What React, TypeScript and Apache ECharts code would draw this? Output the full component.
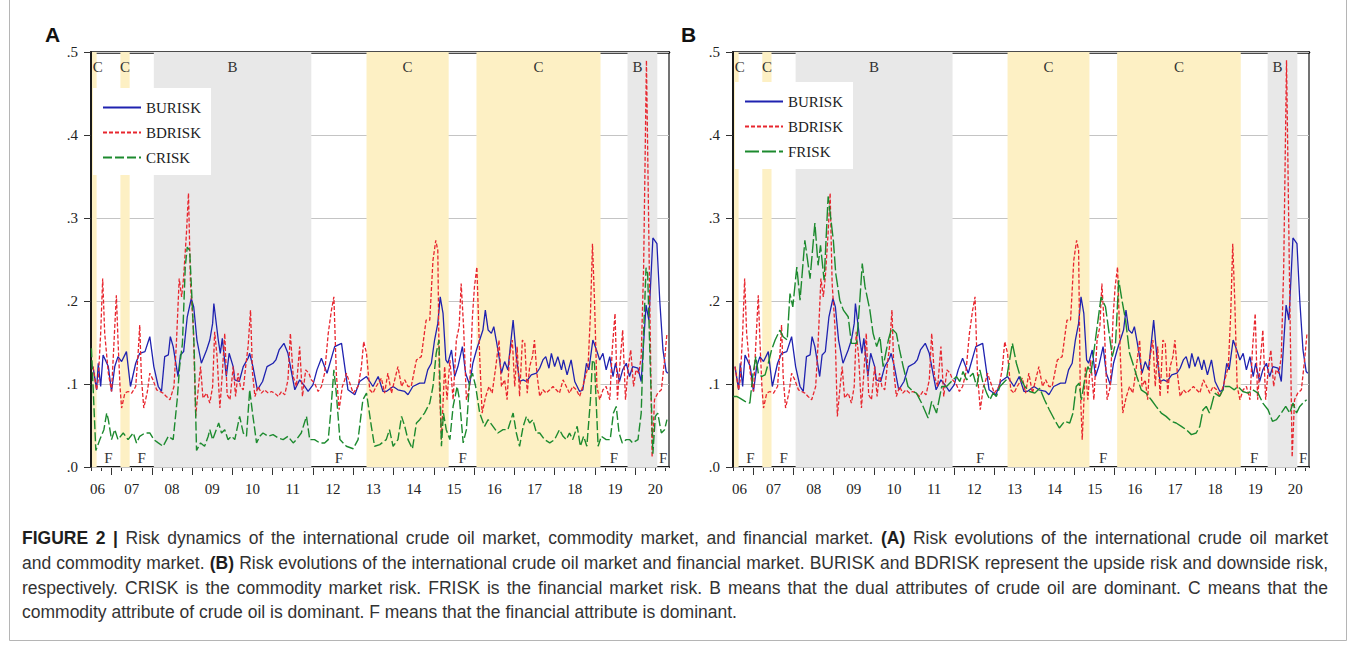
import React, { useEffect, useRef } from 'react';
import * as echarts from 'echarts';

// ---------- data ----------
const YEAR_LABELS = ['06', '07', '08', '09', '10', '11', '12', '13', '14', '15', '16', '17', '18', '19', '20'];
const YEAR_LABEL_POS = [2006.65, 2007.5, 2008.5, 2009.5, 2010.5, 2011.5, 2012.5, 2013.5, 2014.5, 2015.5, 2016.5, 2017.5, 2018.5, 2019.5, 2020.5];
const YEAR_TICKS = [2007, 2008, 2009, 2010, 2011, 2012, 2013, 2014, 2015, 2016, 2017, 2018, 2019, 2020];
const Y_LABELS = ['.0', '.1', '.2', '.3', '.4', '.5'];
const X_MIN = 2006.49;
const X_MAX = 2020.84;

const REGIONS: { from: number; to: number; type: 'B' | 'C' | 'F' }[] = [
  { from: 2006.49, to: 2006.63, type: 'C' },
  { from: 2006.63, to: 2007.22, type: 'F' },
  { from: 2007.22, to: 2007.45, type: 'C' },
  { from: 2007.45, to: 2008.05, type: 'F' },
  { from: 2008.05, to: 2011.96, type: 'B' },
  { from: 2011.96, to: 2013.33, type: 'F' },
  { from: 2013.33, to: 2015.37, type: 'C' },
  { from: 2015.37, to: 2016.06, type: 'F' },
  { from: 2016.06, to: 2019.14, type: 'C' },
  { from: 2019.14, to: 2019.81, type: 'F' },
  { from: 2019.81, to: 2020.55, type: 'B' },
  { from: 2020.55, to: 2020.84, type: 'F' },
];

const BURISK: [number, number][] = [
  [2006.54, 0.121], [2006.63, 0.093], [2006.67, 0.125], [2006.73, 0.097], [2006.79, 0.135], [2006.92, 0.121], [2007.0, 0.091], [2007.08, 0.121], [2007.16, 0.133], [2007.25, 0.127], [2007.37, 0.139], [2007.47, 0.097], [2007.6, 0.125], [2007.7, 0.137], [2007.83, 0.139], [2007.95, 0.157], [2008.05, 0.121], [2008.16, 0.097], [2008.24, 0.091], [2008.32, 0.133], [2008.41, 0.135], [2008.46, 0.157], [2008.53, 0.145], [2008.65, 0.109], [2008.71, 0.135], [2008.79, 0.139], [2008.88, 0.181], [2008.98, 0.203], [2009.04, 0.193], [2009.12, 0.153], [2009.23, 0.125], [2009.36, 0.141], [2009.44, 0.153], [2009.51, 0.173], [2009.54, 0.197], [2009.65, 0.153], [2009.7, 0.137], [2009.75, 0.155], [2009.85, 0.109], [2009.92, 0.137], [2010.02, 0.121], [2010.06, 0.105], [2010.17, 0.103], [2010.27, 0.121], [2010.39, 0.131], [2010.43, 0.137], [2010.51, 0.121], [2010.62, 0.093], [2010.75, 0.103], [2010.86, 0.121], [2011.01, 0.125], [2011.08, 0.129], [2011.16, 0.141], [2011.28, 0.149], [2011.38, 0.137], [2011.55, 0.093], [2011.67, 0.105], [2011.8, 0.097], [2011.88, 0.091], [2012.0, 0.099], [2012.1, 0.117], [2012.21, 0.131], [2012.35, 0.113], [2012.54, 0.145], [2012.71, 0.149], [2012.79, 0.121], [2012.87, 0.093], [2013.04, 0.087], [2013.16, 0.103], [2013.33, 0.109], [2013.49, 0.097], [2013.62, 0.109], [2013.74, 0.091], [2013.82, 0.091], [2013.99, 0.097], [2014.11, 0.093], [2014.28, 0.091], [2014.36, 0.087], [2014.48, 0.097], [2014.65, 0.101], [2014.77, 0.101], [2014.85, 0.117], [2014.94, 0.125], [2015.02, 0.153], [2015.1, 0.173], [2015.16, 0.205], [2015.23, 0.185], [2015.3, 0.129], [2015.35, 0.125], [2015.44, 0.141], [2015.52, 0.109], [2015.6, 0.121], [2015.71, 0.145], [2015.79, 0.113], [2015.89, 0.099], [2015.97, 0.125], [2016.06, 0.141], [2016.14, 0.153], [2016.22, 0.165], [2016.28, 0.189], [2016.35, 0.165], [2016.43, 0.161], [2016.49, 0.169], [2016.55, 0.153], [2016.62, 0.133], [2016.68, 0.113], [2016.76, 0.127], [2016.84, 0.117], [2016.97, 0.177], [2017.05, 0.133], [2017.13, 0.103], [2017.22, 0.105], [2017.3, 0.103], [2017.42, 0.111], [2017.55, 0.113], [2017.63, 0.119], [2017.71, 0.129], [2017.78, 0.133], [2017.86, 0.119], [2017.92, 0.137], [2018.0, 0.121], [2018.08, 0.133], [2018.17, 0.117], [2018.22, 0.129], [2018.31, 0.111], [2018.41, 0.129], [2018.5, 0.103], [2018.62, 0.091], [2018.7, 0.093], [2018.79, 0.125], [2018.85, 0.117], [2018.95, 0.153], [2019.04, 0.141], [2019.12, 0.129], [2019.2, 0.137], [2019.28, 0.117], [2019.37, 0.133], [2019.45, 0.109], [2019.51, 0.125], [2019.61, 0.103], [2019.69, 0.117], [2019.78, 0.125], [2019.86, 0.109], [2019.94, 0.121], [2020.07, 0.119], [2020.15, 0.103], [2020.23, 0.165], [2020.27, 0.195], [2020.34, 0.177], [2020.44, 0.276], [2020.54, 0.269], [2020.61, 0.201], [2020.69, 0.141], [2020.77, 0.115], [2020.81, 0.113],
];

const BDRISK: [number, number][] = [
  [2006.54, 0.121], [2006.63, 0.093], [2006.67, 0.105], [2006.73, 0.161], [2006.78, 0.227], [2006.83, 0.161], [2006.92, 0.113], [2007.0, 0.091], [2007.08, 0.169], [2007.12, 0.207], [2007.16, 0.153], [2007.21, 0.097], [2007.25, 0.071], [2007.33, 0.089], [2007.41, 0.091], [2007.5, 0.089], [2007.6, 0.097], [2007.66, 0.137], [2007.7, 0.171], [2007.74, 0.109], [2007.8, 0.071], [2007.89, 0.091], [2007.95, 0.113], [2008.03, 0.105], [2008.12, 0.093], [2008.2, 0.091], [2008.28, 0.089], [2008.36, 0.085], [2008.45, 0.081], [2008.55, 0.097], [2008.61, 0.149], [2008.68, 0.227], [2008.74, 0.205], [2008.79, 0.229], [2008.86, 0.282], [2008.91, 0.33], [2008.96, 0.221], [2009.03, 0.169], [2009.09, 0.061], [2009.15, 0.093], [2009.21, 0.121], [2009.27, 0.083], [2009.36, 0.089], [2009.44, 0.077], [2009.51, 0.097], [2009.56, 0.163], [2009.62, 0.133], [2009.69, 0.071], [2009.75, 0.113], [2009.81, 0.161], [2009.87, 0.087], [2009.94, 0.081], [2010.02, 0.121], [2010.08, 0.085], [2010.14, 0.113], [2010.2, 0.097], [2010.27, 0.093], [2010.33, 0.121], [2010.39, 0.145], [2010.45, 0.189], [2010.5, 0.113], [2010.56, 0.085], [2010.64, 0.097], [2010.72, 0.089], [2010.8, 0.093], [2010.89, 0.089], [2010.97, 0.091], [2011.05, 0.089], [2011.14, 0.085], [2011.22, 0.091], [2011.3, 0.087], [2011.38, 0.105], [2011.44, 0.161], [2011.51, 0.109], [2011.59, 0.097], [2011.67, 0.145], [2011.74, 0.085], [2011.82, 0.117], [2011.9, 0.113], [2011.96, 0.105], [2012.04, 0.101], [2012.13, 0.091], [2012.21, 0.097], [2012.29, 0.113], [2012.38, 0.161], [2012.46, 0.189], [2012.52, 0.205], [2012.58, 0.113], [2012.65, 0.069], [2012.73, 0.097], [2012.79, 0.105], [2012.83, 0.113], [2013.0, 0.089], [2013.12, 0.097], [2013.2, 0.119], [2013.26, 0.151], [2013.33, 0.137], [2013.41, 0.093], [2013.49, 0.089], [2013.57, 0.097], [2013.7, 0.107], [2013.78, 0.089], [2013.86, 0.113], [2013.95, 0.089], [2014.03, 0.105], [2014.11, 0.121], [2014.2, 0.097], [2014.28, 0.105], [2014.36, 0.097], [2014.44, 0.097], [2014.57, 0.129], [2014.69, 0.133], [2014.81, 0.177], [2014.9, 0.177], [2014.98, 0.249], [2015.05, 0.273], [2015.1, 0.261], [2015.14, 0.097], [2015.19, 0.033], [2015.27, 0.121], [2015.33, 0.081], [2015.4, 0.129], [2015.48, 0.081], [2015.56, 0.153], [2015.63, 0.169], [2015.68, 0.221], [2015.74, 0.169], [2015.81, 0.081], [2015.89, 0.097], [2015.96, 0.181], [2016.01, 0.217], [2016.07, 0.241], [2016.14, 0.133], [2016.2, 0.065], [2016.29, 0.085], [2016.37, 0.097], [2016.45, 0.089], [2016.54, 0.121], [2016.62, 0.153], [2016.68, 0.097], [2016.76, 0.105], [2016.82, 0.081], [2016.88, 0.133], [2016.95, 0.153], [2017.01, 0.097], [2017.07, 0.145], [2017.13, 0.085], [2017.2, 0.153], [2017.26, 0.149], [2017.32, 0.089], [2017.38, 0.121], [2017.45, 0.133], [2017.5, 0.153], [2017.56, 0.113], [2017.63, 0.085], [2017.71, 0.093], [2017.79, 0.089], [2017.88, 0.093], [2017.96, 0.097], [2018.04, 0.093], [2018.12, 0.089], [2018.21, 0.105], [2018.29, 0.097], [2018.37, 0.089], [2018.45, 0.097], [2018.54, 0.093], [2018.62, 0.085], [2018.7, 0.097], [2018.83, 0.121], [2018.89, 0.185], [2018.94, 0.269], [2018.99, 0.201], [2019.05, 0.097], [2019.12, 0.081], [2019.2, 0.093], [2019.28, 0.097], [2019.37, 0.081], [2019.43, 0.141], [2019.5, 0.185], [2019.56, 0.081], [2019.63, 0.129], [2019.69, 0.165], [2019.76, 0.081], [2019.83, 0.121], [2019.89, 0.141], [2019.96, 0.097], [2020.02, 0.117], [2020.09, 0.113], [2020.15, 0.133], [2020.21, 0.241], [2020.28, 0.49], [2020.35, 0.241], [2020.42, 0.012], [2020.48, 0.081], [2020.56, 0.089], [2020.65, 0.093], [2020.73, 0.129], [2020.79, 0.161],
];

const CRISK: [number, number][] = [
  [2006.5, 0.143], [2006.61, 0.02], [2006.71, 0.033], [2006.81, 0.045], [2006.88, 0.065], [2006.92, 0.057], [2007.0, 0.033], [2007.08, 0.045], [2007.16, 0.033], [2007.29, 0.041], [2007.41, 0.033], [2007.54, 0.041], [2007.62, 0.029], [2007.7, 0.037], [2007.83, 0.041], [2007.95, 0.041], [2008.05, 0.033], [2008.16, 0.029], [2008.28, 0.025], [2008.41, 0.037], [2008.53, 0.033], [2008.63, 0.081], [2008.69, 0.121], [2008.76, 0.149], [2008.83, 0.241], [2008.88, 0.265], [2008.94, 0.261], [2009.01, 0.189], [2009.05, 0.145], [2009.11, 0.02], [2009.21, 0.029], [2009.31, 0.025], [2009.4, 0.037], [2009.44, 0.045], [2009.51, 0.033], [2009.6, 0.045], [2009.66, 0.053], [2009.73, 0.041], [2009.81, 0.045], [2009.89, 0.033], [2009.98, 0.037], [2010.06, 0.033], [2010.18, 0.061], [2010.27, 0.041], [2010.35, 0.037], [2010.43, 0.093], [2010.5, 0.065], [2010.6, 0.029], [2010.68, 0.037], [2010.76, 0.041], [2010.89, 0.037], [2011.01, 0.039], [2011.14, 0.035], [2011.26, 0.033], [2011.38, 0.037], [2011.51, 0.029], [2011.59, 0.033], [2011.71, 0.041], [2011.84, 0.061], [2011.92, 0.033], [2012.04, 0.033], [2012.17, 0.029], [2012.29, 0.029], [2012.38, 0.033], [2012.44, 0.065], [2012.52, 0.117], [2012.58, 0.089], [2012.67, 0.033], [2012.79, 0.027], [2012.83, 0.025], [2013.0, 0.022], [2013.12, 0.033], [2013.24, 0.081], [2013.33, 0.089], [2013.45, 0.049], [2013.53, 0.025], [2013.66, 0.027], [2013.82, 0.033], [2013.9, 0.045], [2013.99, 0.025], [2014.11, 0.033], [2014.2, 0.061], [2014.28, 0.049], [2014.36, 0.033], [2014.47, 0.022], [2014.57, 0.053], [2014.65, 0.057], [2014.77, 0.065], [2014.9, 0.077], [2014.98, 0.097], [2015.06, 0.137], [2015.13, 0.153], [2015.19, 0.025], [2015.24, 0.065], [2015.31, 0.045], [2015.4, 0.033], [2015.48, 0.073], [2015.58, 0.097], [2015.64, 0.081], [2015.73, 0.029], [2015.81, 0.045], [2015.89, 0.105], [2015.96, 0.113], [2016.04, 0.097], [2016.14, 0.065], [2016.26, 0.049], [2016.35, 0.057], [2016.47, 0.049], [2016.59, 0.041], [2016.72, 0.045], [2016.84, 0.045], [2016.97, 0.065], [2017.05, 0.041], [2017.13, 0.025], [2017.22, 0.049], [2017.3, 0.061], [2017.38, 0.053], [2017.46, 0.057], [2017.55, 0.041], [2017.63, 0.041], [2017.75, 0.033], [2017.88, 0.029], [2018.0, 0.033], [2018.12, 0.045], [2018.21, 0.037], [2018.29, 0.033], [2018.37, 0.041], [2018.45, 0.033], [2018.56, 0.049], [2018.64, 0.025], [2018.72, 0.037], [2018.8, 0.025], [2018.89, 0.081], [2018.94, 0.129], [2018.99, 0.125], [2019.08, 0.025], [2019.16, 0.037], [2019.28, 0.033], [2019.38, 0.033], [2019.46, 0.065], [2019.53, 0.073], [2019.6, 0.041], [2019.68, 0.029], [2019.78, 0.033], [2019.86, 0.033], [2019.94, 0.029], [2020.07, 0.033], [2020.15, 0.065], [2020.21, 0.161], [2020.27, 0.24], [2020.31, 0.233], [2020.37, 0.129], [2020.44, 0.016], [2020.5, 0.061], [2020.56, 0.065], [2020.65, 0.041], [2020.73, 0.045], [2020.79, 0.057],
];

const FRISK: [number, number][] = [
  [2006.5, 0.085], [2006.58, 0.085], [2006.66, 0.083], [2006.79, 0.079], [2006.91, 0.077], [2006.99, 0.113], [2007.06, 0.133], [2007.12, 0.113], [2007.2, 0.109], [2007.29, 0.111], [2007.37, 0.125], [2007.45, 0.141], [2007.54, 0.153], [2007.66, 0.165], [2007.74, 0.157], [2007.84, 0.153], [2007.91, 0.209], [2007.98, 0.193], [2008.08, 0.241], [2008.16, 0.201], [2008.28, 0.273], [2008.41, 0.227], [2008.53, 0.294], [2008.61, 0.243], [2008.67, 0.267], [2008.76, 0.225], [2008.86, 0.326], [2008.92, 0.302], [2008.99, 0.273], [2009.05, 0.233], [2009.15, 0.201], [2009.24, 0.189], [2009.36, 0.181], [2009.44, 0.149], [2009.57, 0.149], [2009.65, 0.201], [2009.71, 0.245], [2009.78, 0.217], [2009.9, 0.189], [2009.98, 0.161], [2010.07, 0.145], [2010.15, 0.157], [2010.23, 0.121], [2010.36, 0.153], [2010.44, 0.167], [2010.56, 0.161], [2010.64, 0.141], [2010.73, 0.121], [2010.85, 0.097], [2010.98, 0.091], [2011.06, 0.089], [2011.19, 0.077], [2011.35, 0.059], [2011.44, 0.079], [2011.56, 0.065], [2011.69, 0.097], [2011.81, 0.097], [2011.93, 0.103], [2012.06, 0.109], [2012.14, 0.103], [2012.22, 0.115], [2012.31, 0.105], [2012.39, 0.109], [2012.47, 0.113], [2012.56, 0.097], [2012.64, 0.117], [2012.72, 0.101], [2012.81, 0.089], [2012.89, 0.081], [2012.97, 0.089], [2013.05, 0.085], [2013.14, 0.097], [2013.3, 0.105], [2013.45, 0.149], [2013.55, 0.125], [2013.67, 0.105], [2013.76, 0.097], [2013.88, 0.091], [2014.01, 0.089], [2014.13, 0.095], [2014.25, 0.081], [2014.37, 0.069], [2014.5, 0.057], [2014.62, 0.047], [2014.75, 0.055], [2014.88, 0.053], [2014.96, 0.065], [2015.04, 0.097], [2015.11, 0.101], [2015.17, 0.081], [2015.25, 0.105], [2015.33, 0.121], [2015.41, 0.113], [2015.54, 0.161], [2015.66, 0.205], [2015.77, 0.193], [2015.85, 0.165], [2015.94, 0.133], [2016.02, 0.149], [2016.1, 0.225], [2016.18, 0.201], [2016.27, 0.177], [2016.37, 0.137], [2016.45, 0.125], [2016.55, 0.109], [2016.66, 0.093], [2016.78, 0.089], [2016.91, 0.081], [2017.03, 0.073], [2017.16, 0.065], [2017.28, 0.061], [2017.41, 0.055], [2017.53, 0.053], [2017.66, 0.049], [2017.78, 0.045], [2017.91, 0.039], [2018.03, 0.041], [2018.12, 0.049], [2018.2, 0.069], [2018.28, 0.073], [2018.36, 0.065], [2018.49, 0.089], [2018.61, 0.085], [2018.74, 0.097], [2018.86, 0.097], [2018.98, 0.093], [2019.07, 0.097], [2019.19, 0.091], [2019.32, 0.089], [2019.44, 0.093], [2019.57, 0.089], [2019.69, 0.077], [2019.82, 0.069], [2019.93, 0.055], [2020.03, 0.057], [2020.15, 0.065], [2020.26, 0.073], [2020.36, 0.065], [2020.44, 0.077], [2020.53, 0.065], [2020.61, 0.073], [2020.69, 0.077], [2020.78, 0.081],
];

// caption lines; words between * are bold
const CAPTION_LINES = [
  '*FIGURE 2 |* Risk dynamics of the international crude oil market, commodity market, and financial market. *(A)* Risk evolutions of the international crude oil market',
  'and commodity market. *(B)* Risk evolutions of the international crude oil market and financial market. BURISK and BDRISK represent the upside risk and downside risk,',
  'respectively. CRISK is the commodity market risk. FRISK is the financial market risk. B means that the dual attributes of crude oil are dominant. C means that the',
  'commodity attribute of crude oil is dominant. F means that the financial attribute is dominant.',
];

// ---------- styling ----------
const SERIF = "'Liberation Serif', 'DejaVu Serif', serif";
const SANS = "'Liberation Sans', Arial, sans-serif";
const BLUE = '#1f22b0';
const RED = '#e8262e';
const GREEN = '#1c8a2e';
const FILL: Record<string, string> = { B: '#e8e8e8', C: '#fdf0c4', F: 'rgba(0,0,0,0)' };
const LABEL_DX: Record<number, number> = { 0: 4, 10: -5 };
const CAPTION_SIZE = 17.5;
const CAPTION_LEFT = 22;
const CAPTION_RIGHT = 1328;

const QUARTER_TICKS: number[] = [];
for (let i = 0; i <= 57; i++) QUARTER_TICKS.push(Math.round((2006.5 + i * 0.25) * 100) / 100);

const PANELS = [
  { left: 91, width: 578, legendLeft: 93, legendTop: 88, third: 'CRISK', thirdData: CRISK, thirdDash: [9, 3], letter: 'A', letterX: 54 },
  { left: 733, width: 576, legendLeft: 735, legendTop: 82, third: 'FRISK', thirdData: FRISK, thirdDash: [14, 3], letter: 'B', letterX: 690 },
];
const TOP = 52;
const HEIGHT = 415;

function captionGraphics(): any[] {
  const out: any[] = [];
  const canvas = document.createElement('canvas');
  const ctx = canvas.getContext('2d') as CanvasRenderingContext2D;
  const fontOf = (bold: boolean) => `${bold ? 'bold ' : ''}${CAPTION_SIZE}px ${SANS}`;
  CAPTION_LINES.forEach((line, li) => {
    let bold = false;
    const words = line.split(' ').map((raw) => {
      let w = raw;
      let b = bold;
      if (w.startsWith('*')) { w = w.slice(1); b = true; bold = true; }
      if (w.endsWith('*')) { w = w.slice(0, -1); bold = false; }
      ctx.font = fontOf(b);
      return { text: w, bold: b, width: ctx.measureText(w).width };
    });
    ctx.font = fontOf(false);
    const space = ctx.measureText(' ').width;
    const total = words.reduce((s, w) => s + w.width, 0);
    const justify = li < CAPTION_LINES.length - 1;
    const gap = justify ? (CAPTION_RIGHT - CAPTION_LEFT - total) / (words.length - 1) : space;
    let x = CAPTION_LEFT;
    const y = 538 + li * 24.8;
    words.forEach((w) => {
      out.push({
        type: 'text', x, y, silent: true,
        style: { text: w.text, font: fontOf(w.bold), fill: w.bold ? '#1e1e1e' : '#333', verticalAlign: 'middle' },
      });
      x += w.width + gap;
    });
  });
  return out;
}

function buildOption() {
  const grid: any[] = [];
  const xAxis: any[] = [];
  const yAxis: any[] = [];
  const series: any[] = [];
  const legend: any[] = [];
  const graphic: any[] = [];

  PANELS.forEach((p, gi) => {
    grid.push({ left: p.left, top: TOP, width: p.width, height: HEIGHT, containLabel: false });
    const xi = xAxis.length;
    xAxis.push({
      type: 'value', gridIndex: gi, position: 'bottom', min: X_MIN, max: X_MAX,
      axisLine: { show: true, onZero: false, lineStyle: { color: '#1a1a1a', width: 2 } },
      axisTick: { show: true, customValues: QUARTER_TICKS, length: 4, lineStyle: { color: '#333', width: 1 } },
      axisLabel: {
        show: true, customValues: YEAR_LABEL_POS, margin: 14, fontFamily: SERIF, fontSize: 15, color: '#222',
        formatter: (v: number) => {
          const i = YEAR_LABEL_POS.findIndex((q) => Math.abs(q - v) < 1e-6);
          return i >= 0 ? YEAR_LABELS[i] : '';
        },
      },
      splitLine: { show: false },
    });
    xAxis.push({
      type: 'value', gridIndex: gi, position: 'bottom', min: X_MIN, max: X_MAX,
      axisLine: { show: false },
      axisTick: { show: true, customValues: YEAR_TICKS, length: 8, lineStyle: { color: '#333', width: 1 } },
      axisLabel: { show: false },
      splitLine: { show: false },
    });
    xAxis.push({
      type: 'value', gridIndex: gi, position: 'top', min: X_MIN, max: X_MAX,
      axisLine: { show: true, onZero: false, lineStyle: { color: '#111', width: 2.5 } },
      axisTick: { show: false }, axisLabel: { show: false }, splitLine: { show: false },
    });
    const yi = yAxis.length;
    yAxis.push({
      type: 'value', gridIndex: gi, position: 'left', min: 0, max: 0.5, interval: 0.1, z: 1,
      axisLine: { show: true, onZero: false, lineStyle: { color: '#1a1a1a', width: 2 } },
      axisTick: { show: true, length: 7, lineStyle: { color: '#333', width: 1 } },
      axisLabel: {
        margin: 13, fontFamily: SERIF, fontSize: 15, color: '#222',
        formatter: (v: number) => Y_LABELS[Math.round(v * 10)] ?? '',
      },
      splitLine: { show: true, lineStyle: { color: '#c4c4c4', width: 1 } },
    });
    yAxis.push({
      type: 'value', gridIndex: gi, position: 'right', min: 0, max: 0.5, interval: 0.1,
      axisLine: { show: true, onZero: false, lineStyle: { color: '#444', width: 1.5 } },
      axisTick: { show: false }, axisLabel: { show: false }, splitLine: { show: false },
    });

    series.push({
      type: 'line', xAxisIndex: xi, yAxisIndex: yi, data: [], z: 0, silent: true,
      markArea: {
        silent: true,
        data: REGIONS.map((r, ri) => [
          {
            xAxis: r.from, name: r.type,
            itemStyle: { color: FILL[r.type] },
            label: {
              show: true, position: r.type === 'F' ? 'insideBottom' : 'insideTop', distance: r.type === 'F' ? 2 : 7,
              offset: [LABEL_DX[ri] ?? 0, 0],
              fontFamily: SERIF, fontSize: 15, color: '#333',
            },
          },
          { xAxis: r.to },
        ]),
      },
    });
    series.push({
      name: 'BURISK', type: 'line', xAxisIndex: xi, yAxisIndex: yi, data: BURISK, symbol: 'none', z: 2,
      lineStyle: { color: BLUE, width: 1.3, type: 'solid' }, itemStyle: { color: BLUE },
    });
    series.push({
      name: 'BDRISK', type: 'line', xAxisIndex: xi, yAxisIndex: yi, data: BDRISK, symbol: 'none', z: 3,
      lineStyle: { color: RED, width: 1.3, type: [4, 2] }, itemStyle: { color: RED },
    });
    series.push({
      name: p.third, type: 'line', xAxisIndex: xi, yAxisIndex: yi, data: p.thirdData, symbol: 'none', z: 4,
      lineStyle: { color: GREEN, width: 1.4, type: p.thirdDash }, itemStyle: { color: GREEN },
    });

    legend.push({
      orient: 'vertical', left: p.legendLeft, top: p.legendTop, data: ['BURISK', 'BDRISK', p.third],
      backgroundColor: '#ffffff', padding: [12, 10, 10, 9], itemGap: 10, itemWidth: 38, itemHeight: 14,
      itemStyle: { opacity: 0 },
      textStyle: { fontFamily: SERIF, fontSize: 15, color: '#222' }, selectedMode: false, z: 10,
    });

    graphic.push({
      type: 'text', left: p.letterX - 9, top: 24,
      style: { text: p.letter, font: `bold 21px ${SANS}`, fill: '#111' },
    });
  });

  graphic.push(...captionGraphics());

  graphic.push({
    type: 'rect', shape: { x: 9.5, y: -2, width: 1337, height: 642.5 },
    style: { fill: 'none', stroke: '#b5b5b5', lineWidth: 1 }, z: -1,
  });

  return { animation: false, backgroundColor: '#ffffff', grid, xAxis, yAxis, series, legend, graphic };
}

export default function App() {
  const ref = useRef<HTMLDivElement>(null);
  useEffect(() => {
    const chart = echarts.init(ref.current as HTMLDivElement, null, { renderer: 'svg' });
    chart.setOption(buildOption() as any);
    return () => chart.dispose();
  }, []);
  return (
    <div
      ref={ref}
      style={{ position: 'fixed', left: 0, top: 0, width: 1356, height: 645, background: '#fff' }}
    />
  );
}
